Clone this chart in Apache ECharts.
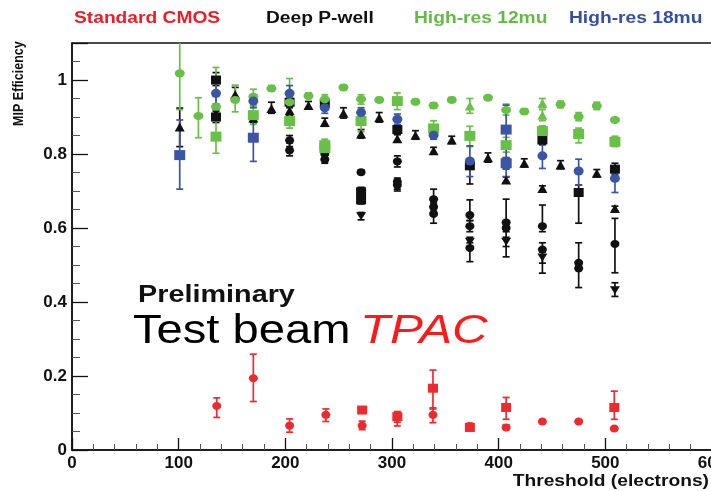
<!DOCTYPE html>
<html><head><meta charset="utf-8">
<script src="https://cdn.jsdelivr.net/npm/echarts@6/dist/echarts.min.js"></script>
<style>html,body{margin:0;padding:0;background:#fff}#c{width:711px;height:491px}</style>
</head><body><div id="c"></div>
<script>
// Legend / annotation texts
const legendLabels = ['Standard CMOS', 'Deep P-well', 'High-res 12mu', 'High-res 18mu'];
const xTickLabels = [0, 100, 200, 300, 400, 500, 600];
const yTickLabels = [0, 0.2, 0.4, 0.6, 0.8, 1];

// each row: [threshold (electrons), MIP efficiency, error low, error high]
const cmosCircle = [
  [135.7, 0.119, 0.088, 0.141], [170, 0.194, 0.131, 0.259], [204, 0.066, 0.048, 0.084],
  [238, 0.095, 0.077, 0.111], [272, 0.066, 0.055, 0.078], [305, 0.088, 0.075, 0.100],
  [338.4, 0.095, 0.074, 0.114], [373, 0.065, 0.057, 0.072], [407, 0.061, 0.055, 0.068],
  [441, 0.077, 0.072, 0.082], [475, 0.077, 0.072, 0.082], [508.4, 0.058, 0.053, 0.063]
];
const cmosSquare = [
  [272, 0.108, 0.100, 0.115], [305, 0.090, 0.065, 0.104], [338.4, 0.167, 0.111, 0.216],
  [373, 0.061, 0.052, 0.070], [407, 0.115, 0.083, 0.142], [508.4, 0.115, 0.083, 0.159]
];
const pwellSquare = [
  [135, 1.0, 0.985, 1.02], [135, 0.9, 0.885, 0.915], [204, 0.94, 0.925, 0.955],
  [237, 0.937, 0.925, 0.95], [271, 0.698, 0.685, 0.71], [271, 0.676, 0.665, 0.69],
  [305, 0.866, 0.855, 0.878], [373, 0.768, 0.719, 0.78], [407, 0.775, 0.76, 0.79],
  [441, 0.838, 0.825, 0.85], [475, 0.696, 0.613, 0.716], [509, 0.759, 0.745, 0.775]
];
const pwellTriangle = [
  [101, 0.873, 0.82, 0.924], [135, 0.91, 0.9, 0.92], [153, 0.961, 0.945, 0.98],
  [170, 0.897, 0.885, 0.91], [187, 0.923, 0.91, 0.94], [204, 0.917, 0.905, 0.93],
  [221.7, 0.931, 0.922, 0.942], [237, 0.885, 0.875, 0.897], [254.5, 0.91, 0.897, 0.925],
  [271, 0.854, 0.843, 0.866], [288, 0.898, 0.886, 0.912], [305, 0.841, 0.832, 0.852],
  [322, 0.851, 0.84, 0.863], [339, 0.809, 0.8, 0.818], [356, 0.838, 0.828, 0.848],
  [390, 0.79, 0.778, 0.803], [407, 0.73, 0.722, 0.738], [424, 0.775, 0.765, 0.787],
  [441, 0.707, 0.7, 0.714], [458, 0.77, 0.76, 0.782], [492, 0.748, 0.738, 0.758],
  [509, 0.653, 0.647, 0.659]
];
const pwellCircle = [
  [204, 0.837, 0.82, 0.85], [204, 0.81, 0.795, 0.83], [237, 0.8, 0.79, 0.81],
  [237, 0.785, 0.775, 0.8], [271, 0.751, 0.745, 0.757], [305, 0.78, 0.765, 0.795],
  [305, 0.725, 0.705, 0.735], [305, 0.716, 0.7, 0.73], [339, 0.678, 0.665, 0.705],
  [339, 0.657, 0.645, 0.67], [339, 0.638, 0.613, 0.65], [373, 0.635, 0.62, 0.676],
  [373, 0.605, 0.59, 0.62], [373, 0.546, 0.509, 0.56], [407, 0.615, 0.522, 0.678],
  [407, 0.6, 0.59, 0.61], [441, 0.605, 0.59, 0.662], [441, 0.542, 0.478, 0.56],
  [475, 0.506, 0.49, 0.56], [475, 0.491, 0.439, 0.5], [509, 0.557, 0.479, 0.626]
];
const pwellTriDown = [
  [271, 0.632, 0.622, 0.642], [373, 0.563, 0.55, 0.575], [407, 0.563, 0.55, 0.575],
  [441, 0.52, 0.505, 0.535], [509, 0.432, 0.415, 0.452]
];
const hr12Circle = [
  [101, 1.018, 0.92, 1.12], [118.5, 0.903, 0.844, 0.952], [135, 0.928, 0.9, 0.955],
  [153, 0.946, 0.914, 0.986], [170, 0.955, 0.93, 0.975], [187, 0.977, 0.97, 0.985],
  [204, 0.94, 0.9, 1.004], [221.7, 0.957, 0.95, 0.965], [237, 0.948, 0.935, 0.96],
  [254.5, 0.98, 0.973, 0.987], [271, 0.948, 0.935, 0.96], [288, 0.946, 0.94, 0.953],
  [322, 0.941, 0.935, 0.948], [339, 0.931, 0.924, 0.938], [356, 0.946, 0.94, 0.953],
  [390, 0.952, 0.946, 0.958], [407, 0.919, 0.905, 0.935], [424, 0.915, 0.908, 0.922],
  [458, 0.934, 0.925, 0.943], [475, 0.901, 0.89, 0.912], [492, 0.93, 0.92, 0.94],
  [509, 0.892, 0.886, 0.898]
];
const hr12Square = [
  [135, 0.847, 0.802, 1.034], [170, 0.905, 0.88, 0.93], [204, 0.889, 0.87, 0.91],
  [237, 0.824, 0.8, 0.84], [237, 0.816, 0.805, 0.83], [271, 0.889, 0.86, 0.92],
  [305, 0.943, 0.92, 0.965], [339, 0.869, 0.84, 0.89], [373, 0.849, 0.82, 0.875],
  [407, 0.824, 0.805, 0.845], [441, 0.862, 0.845, 0.876], [475, 0.854, 0.83, 0.87],
  [509, 0.833, 0.82, 0.848]
];
const hr12Triangle = [
  [373, 0.93, 0.91, 0.95], [441, 0.937, 0.925, 0.95], [441, 0.905, 0.89, 0.92]
];
const hr18Circle = [
  [135, 0.964, 0.935, 0.995], [170, 0.943, 0.925, 0.96], [204, 0.964, 0.945, 0.985],
  [237, 0.925, 0.91, 0.94], [271, 0.912, 0.9, 0.925], [305, 0.894, 0.88, 0.908],
  [339, 0.851, 0.84, 0.862], [373, 0.781, 0.739, 0.822], [441, 0.795, 0.761, 0.829],
  [475, 0.754, 0.716, 0.786], [509, 0.734, 0.696, 0.768]
];
const hr18Square = [
  [101, 0.797, 0.705, 0.892], [170, 0.844, 0.78, 0.897], [407, 0.866, 0.739, 0.932],
  [407, 0.775, 0.76, 0.79]
];

const RED = '#ee2a2e', BLACK = '#111111', GREEN = '#68c046', BLUE = '#3a55a6';
const TRI_DOWN = 'path://M0,0L10,0L5,9Z';

function errSeries(data, color) {
  return {
    type: 'custom', data: data, clip: true, z: 2, silent: true,
    encode: { x: 0, y: [1, 2, 3] },
    renderItem: function (params, api) {
      const x = api.value(0), lo = api.value(2), hi = api.value(3);
      const a = api.coord([x, lo]), b = api.coord([x, hi]);
      const st = { stroke: color, lineWidth: 1.7 };
      return {
        type: 'group', children: [
          { type: 'line', shape: { x1: a[0], y1: a[1], x2: b[0], y2: b[1] }, style: st },
          { type: 'line', shape: { x1: a[0] - 3.5, y1: a[1], x2: a[0] + 3.5, y2: a[1] }, style: st },
          { type: 'line', shape: { x1: b[0] - 3.5, y1: b[1], x2: b[0] + 3.5, y2: b[1] }, style: st }
        ]
      };
    }
  };
}
function markSeries(data, color, symbol, size) {
  return {
    type: 'scatter', data: data.map(r => [r[0], r[1]]), symbol: symbol, symbolSize: size,
    itemStyle: { color: color, opacity: 1 }, z: 3, silent: true
  };
}

const groups = [
  [cmosCircle, RED, 'circle', [9, 8]], [cmosSquare, RED, 'rect', [10, 9]],
  [pwellSquare, BLACK, 'rect', [10, 9]], [pwellTriangle, BLACK, 'triangle', [10, 9]],
  [pwellCircle, BLACK, 'circle', [9, 8]], [pwellTriDown, BLACK, TRI_DOWN, [10, 8]],
  [hr12Circle, GREEN, 'circle', [10, 8]], [hr12Square, GREEN, 'rect', [11, 10]], [hr12Triangle, GREEN, 'triangle', [10, 9]],
  [hr18Circle, BLUE, 'circle', [10, 9]], [hr18Square, BLUE, 'rect', [11, 10]]
];
const series = [];
groups.forEach(g => series.push(errSeries(g[0], g[1])));
groups.forEach(g => series.push(markSeries(g[0], g[1], g[2], g[3])));

const FONT = '"Liberation Sans", Arial, sans-serif';
const labelFont = { fontFamily: FONT, fontWeight: 'bold', fontSize: 17, color: '#111' };
const chart = echarts.init(document.getElementById('c'), null, { renderer: 'canvas' });
chart.setOption({
  animation: false,
  backgroundColor: '#fff',
  grid: {
    left: 72, top: 43, width: 640, height: 407, containLabel: false, outerBoundsMode: 'none',
    show: true, borderColor: '#111', borderWidth: 1.5, backgroundColor: 'transparent'
  },
  xAxis: {
    type: 'value', min: 0, max: 600, interval: 100,
    axisLine: { lineStyle: { color: '#111', width: 1.5 } },
    axisTick: { inside: true, length: 12, lineStyle: { color: '#111', width: 1.3 } },
    minorTick: { show: true, splitNumber: 5, length: 6, lineStyle: { color: '#555', width: 1 } },
    splitLine: { show: false },
    axisLabel: Object.assign({ margin: 5, formatter: v => xTickLabels.includes(v) ? String(v) : '' }, labelFont)
  },
  yAxis: {
    type: 'value', min: 0, max: 1.1, interval: 0.2,
    axisLine: { lineStyle: { color: '#111', width: 1.5 } },
    axisTick: { inside: true, length: 16, lineStyle: { color: '#111', width: 1.3 } },
    minorTick: { show: true, splitNumber: 4, length: 8, lineStyle: { color: '#555', width: 1 } },
    splitLine: { show: false },
    axisLabel: Object.assign({ margin: 5, formatter: v => yTickLabels.some(t => Math.abs(t - v) < 1e-9) ? String(+v.toFixed(1)) : '' }, labelFont)
  },
  graphic: [
    { type: 'text', x: 74, y: 11, scaleX: 1.2, style: { text: legendLabels[0], fill: '#ee1c24', font: 'bold 16px ' + FONT, textVerticalAlign: 'top' } },
    { type: 'text', x: 266, y: 11, scaleX: 1.2, style: { text: legendLabels[1], fill: '#111', font: 'bold 16px ' + FONT, textVerticalAlign: 'top' } },
    { type: 'text', x: 414, y: 11, scaleX: 1.2, style: { text: legendLabels[2], fill: '#63bb45', font: 'bold 16px ' + FONT, textVerticalAlign: 'top' } },
    { type: 'text', x: 569, y: 11, scaleX: 1.2, style: { text: legendLabels[3], fill: '#3450a4', font: 'bold 16px ' + FONT, textVerticalAlign: 'top' } },
    { type: 'text', x: 138, y: 283, scaleX: 1.2, style: { text: 'Preliminary', fill: '#111', font: 'bold 24px ' + FONT, textVerticalAlign: 'top' } },
    { type: 'text', x: 133, y: 311, scaleX: 1.15, style: { text: 'Test beam', fill: '#000', font: '41px ' + FONT, textVerticalAlign: 'top' } },
    { type: 'text', x: 360, y: 311, scaleX: 1.2, style: { text: 'TPAC', fill: '#ff1a1a', font: 'italic 41px ' + FONT, textVerticalAlign: 'top' } },
    { type: 'text', x: 709, y: 474, scaleX: 1.2, style: { text: 'Threshold (electrons)', fill: '#111', font: 'bold 16px ' + FONT, textAlign: 'right', textVerticalAlign: 'top' } },
    { type: 'text', x: 19, y: 126, rotation: Math.PI / 2, scaleY: 1.2, style: { text: 'MIP Efficiency', fill: '#111', font: 'bold 12.5px ' + FONT, textAlign: 'left', textVerticalAlign: 'middle' } }
  ],
  series: series
});
</script>
</body></html>
